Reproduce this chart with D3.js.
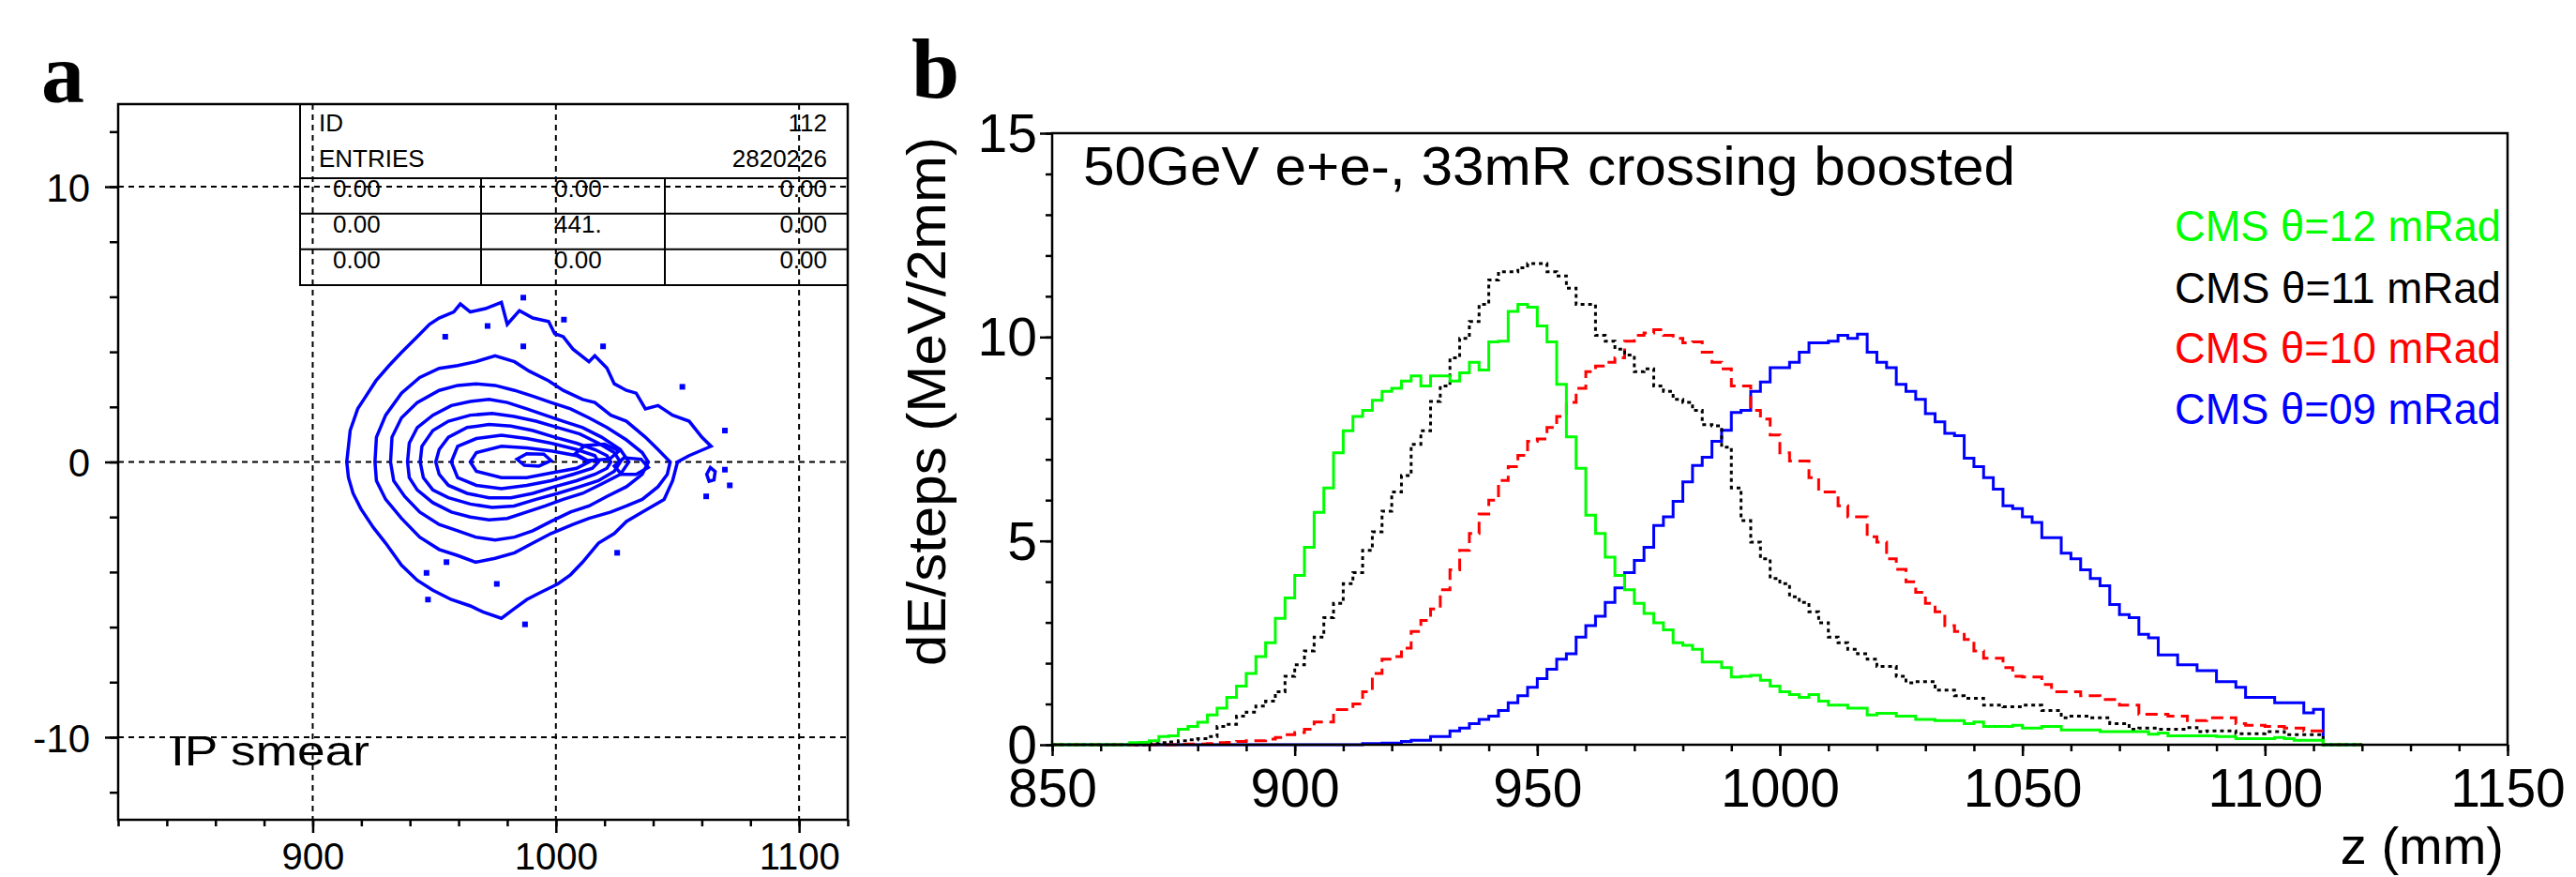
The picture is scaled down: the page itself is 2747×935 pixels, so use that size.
<!DOCTYPE html>
<html><head><meta charset="utf-8">
<script src="https://cdn.jsdelivr.net/npm/d3@7"></script>
<style>
body{margin:0;background:#fff}
svg{display:block}
text{font-family:"Liberation Sans",Arial,sans-serif;fill:#000}
</style>
</head><body>
<svg id="chart" width="2747" height="935"></svg>
<script>
// ---------------- DATA ----------------
// Panel b: histograms, 2 mm bins starting at z = 864 mm (last bin 1110-1112)
const binStart = 864;
const binWidth = 2;
const seriesNames = ["CMS \u03b8=12 mRad", "CMS \u03b8=11 mRad", "CMS \u03b8=10 mRad", "CMS \u03b8=09 mRad"];
const green12 = [
 0,0.05,0.06,0.1,0.2,0.22,0.38,0.45,0.55,0.73,
 0.9,1.16,1.44,1.75,2.16,2.5,3.1,3.6,4.15,4.84,
 5.7,6.3,7.16,7.7,8.05,8.2,8.45,8.67,8.74,8.92,
 9.05,8.8,9.05,9.05,8.92,9.12,9.38,9.19,9.88,9.9,
 10.63,10.8,10.73,10.27,9.88,8.84,7.55,6.78,5.63,5.18,
 4.6,4.15,3.8,3.47,3.22,2.99,2.82,2.5,2.44,2.34,
 2.03,2.03,1.89,1.66,1.68,1.7,1.58,1.44,1.3,1.23,
 1.16,1.23,1.07,0.97,0.97,0.9,0.9,0.73,0.77,0.77,
 0.7,0.7,0.62,0.62,0.59,0.59,0.59,0.52,0.56,0.45,
 0.45,0.45,0.48,0.41,0.41,0.45,0.45,0.36,0.36,0.36,
 0.36,0.32,0.32,0.32,0.32,0.32,0.26,0.29,0.22,0.22,
 0.22,0.22,0.22,0.2,0.2,0.15,0.15,0.15,0.15,0.18,
 0.15,0.11,0.11,0.11
];
const black11 = [
 0,0,0,0.03,0.05,0.07,0.1,0.12,0.15,0.2,
 0.45,0.5,0.7,0.8,0.95,1.07,1.3,1.68,1.96,2.3,
 2.64,3.12,3.47,3.95,4.22,4.77,5.22,5.73,6.2,6.6,
 7.37,7.7,8.42,8.8,9.49,9.97,10.38,10.8,11.4,11.6,
 11.6,11.7,11.8,11.8,11.6,11.5,11.2,10.8,10.8,10.04,
 9.9,9.7,9.56,9.15,9.22,8.8,8.67,8.47,8.4,8.2,
 7.85,7.82,7.3,6.3,5.5,4.97,4.56,4.08,3.95,3.63,
 3.49,3.26,2.99,2.64,2.5,2.34,2.23,2.1,1.92,1.92,
 1.68,1.52,1.55,1.55,1.34,1.34,1.2,1.14,1.14,0.97,
 0.97,0.93,0.93,0.97,0.97,0.84,0.84,0.66,0.7,0.7,
 0.66,0.66,0.52,0.52,0.38,0.41,0.41,0.38,0.38,0.38,
 0.42,0.32,0.34,0.34,0.34,0.27,0.27,0.27,0.32,0.32,
 0.25,0.25,0.25,0.25
];
const red10 = [
 0,0,0,0,0,0,0.01,0.02,0.02,0.03,
 0.05,0.06,0.08,0.1,0.1,0.14,0.18,0.25,0.3,0.38,
 0.56,0.56,0.86,0.86,1.0,1.3,1.75,2.1,2.16,2.37,
 2.78,3.05,3.33,3.8,4.29,4.77,5.18,5.66,6.0,6.48,
 6.82,7.1,7.44,7.5,7.78,8.05,8.4,8.74,9.15,9.29,
 9.38,9.49,9.9,10.04,10.1,10.18,10.04,9.97,9.86,9.88,
 9.63,9.38,9.22,8.8,8.8,8.2,7.99,7.6,7.16,6.96,
 6.96,6.55,6.2,6.2,5.86,5.59,5.59,5.1,4.97,4.56,
 4.3,4.0,3.74,3.47,3.26,2.92,2.78,2.58,2.3,2.12,
 2.12,1.89,1.68,1.66,1.66,1.48,1.3,1.3,1.3,1.2,
 1.2,1.11,1.11,0.97,0.97,0.75,0.75,0.75,0.7,0.7,
 0.59,0.59,0.66,0.66,0.66,0.52,0.48,0.48,0.45,0.45,
 0.41,0.41,0.34,0.34
];
const blue09 = [
 0,0,0,0,0,0,0,0,0,0,
 0,0,0,0,0,0,0,0,0,0,
 0,0,0,0,0,0.03,0.03,0.04,0.04,0.08,
 0.11,0.11,0.2,0.2,0.34,0.41,0.52,0.62,0.7,0.84,
 1.03,1.2,1.41,1.62,1.85,2.1,2.23,2.64,2.92,3.15,
 3.49,3.85,4.22,4.52,4.84,5.38,5.59,5.97,6.45,6.85,
 7.05,7.44,7.71,8.15,8.2,8.67,8.9,9.25,9.25,9.38,
 9.63,9.86,9.86,9.9,10.04,9.97,10.07,9.63,9.38,9.25,
 8.84,8.67,8.47,8.12,7.92,7.64,7.58,7.03,6.82,6.55,
 6.27,5.86,5.79,5.59,5.45,5.08,5.08,4.7,4.56,4.29,
 4.08,3.9,3.44,3.19,3.12,2.71,2.62,2.2,2.2,1.96,
 1.96,1.82,1.82,1.55,1.55,1.41,1.16,1.16,1.16,1.03,
 1.03,1.03,0.78,0.87
];
const xTicksB = [850, 900, 950, 1000, 1050, 1100, 1150];
const yTicksB = [0, 5, 10, 15];
const titleB = "50GeV e+e-, 33mR crossing boosted";
const yLabelB = "dE/steps (MeV/2mm)";
const xLabelB = "z (mm)";

// Panel a: contour lines of the IP smear distribution, [z (mm), x (mm)]
const contour1 = [[914,0],[915.4,1.14],[918.5,1.93],[921,2.27],[926,2.95],[931.4,3.5],[936.5,3.98],[943,4.55],[948,5.0],[952,5.23],[958,5.45],[960.7,5.74],[964.8,5.45],[971,5.57],[977.6,5.8],[980,5.0],[985,5.5],[990.5,5.23],[997,5.1],[999.5,4.66],[1003,4.55],[1007,4.1],[1013.6,3.64],[1016,3.86],[1021,3.41],[1024,2.84],[1029,2.6],[1033,2.5],[1036.8,1.93],[1042,2.05],[1048,1.7],[1054.8,1.48],[1060,0.9],[1063.8,0.57],[1054.8,0.23],[1050,0],[1048,-0.68],[1044.5,-1.36],[1035.5,-1.82],[1029,-2.16],[1024,-2.6],[1017.5,-2.95],[1011,-3.64],[1006,-4.1],[1000.8,-4.43],[993,-4.77],[988,-5.0],[982.8,-5.34],[977.6,-5.68],[970,-5.45],[964.8,-5.23],[957,-5.0],[949.4,-4.66],[943,-4.3],[936.5,-3.75],[930,-2.95],[925,-2.39],[919.8,-1.7],[916.6,-1.14],[914.7,-0.57]];
const contour2 = [[925.6,0],[926.2,0.9],[930,1.7],[936.5,2.5],[944,3.07],[952,3.4],[959.6,3.5],[967,3.64],[975,3.86],[983,3.64],[989,3.3],[997,2.95],[1003,2.6],[1011,2.27],[1016,2.16],[1022.6,1.7],[1029,1.48],[1036.8,0.9],[1042,0.45],[1047,0],[1045.8,-0.45],[1042,-0.9],[1035.5,-1.36],[1029,-1.6],[1022.6,-1.82],[1013.6,-2.05],[1007,-2.27],[998,-2.6],[990.5,-2.95],[983,-3.3],[975,-3.5],[967,-3.64],[959.6,-3.4],[952,-3.18],[944,-2.73],[936.5,-2.05],[930,-1.36],[926.2,-0.68]];
const contour3 = [[932,0],[932.6,0.9],[936.5,1.6],[943,2.16],[952,2.6],[959.6,2.78],[967,2.84],[975,2.78],[983,2.6],[990.5,2.39],[998,2.16],[1006,1.93],[1013.6,1.6],[1021,1.25],[1029,0.8],[1035.5,0.34],[1038,0],[1035.5,-0.45],[1029,-0.9],[1021,-1.25],[1013.6,-1.6],[1006,-1.82],[998,-2.16],[990.5,-2.5],[983,-2.73],[975,-2.84],[967,-2.73],[959.6,-2.5],[952,-2.27],[944,-1.82],[937.8,-1.25],[933.3,-0.68]];
const contour4 = [[939,0],[939.7,0.68],[943,1.25],[949.4,1.7],[957,2.05],[964.8,2.2],[972.5,2.27],[980,2.16],[988,1.93],[995.6,1.7],[1003,1.48],[1011,1.25],[1018.8,0.9],[1026.5,0.45],[1030,0],[1026.5,-0.45],[1018.8,-0.8],[1011,-1.14],[1003,-1.36],[995.6,-1.6],[988,-1.82],[980,-2.05],[972.5,-2.1],[964.8,-2.0],[957,-1.82],[949.4,-1.48],[943,-1.02],[939.7,-0.57]];
const contour5 = [[944.2,0],[944.9,0.57],[949.4,1.14],[955.8,1.48],[964.8,1.7],[973.8,1.76],[982.8,1.65],[991.8,1.48],[1000.8,1.25],[1009.8,1.02],[1017.5,0.68],[1024,0.34],[1026.5,0],[1024,-0.34],[1017.5,-0.68],[1009.8,-0.9],[1000.8,-1.14],[991.8,-1.36],[982.8,-1.6],[973.8,-1.65],[964.8,-1.53],[955.8,-1.3],[949.4,-1.02],[945.5,-0.57]];
const contour6 = [[950.6,0],[952,0.45],[955.8,0.9],[963.5,1.25],[972.5,1.36],[981.5,1.3],[990.5,1.14],[999.5,0.9],[1008.5,0.68],[1016,0.45],[1021,0.23],[1022.6,0],[1021,-0.23],[1016,-0.45],[1008.5,-0.68],[999.5,-0.9],[990.5,-1.14],[981.5,-1.3],[972.5,-1.3],[963.5,-1.14],[955.8,-0.85],[952,-0.45]];
const contour7 = [[957,0],[959.6,0.57],[967.3,0.85],[977.6,0.97],[988,0.85],[998,0.68],[1008.5,0.45],[1016,0.23],[1017.5,0],[1015,-0.23],[1007,-0.45],[998,-0.68],[988,-0.85],[977.6,-0.97],[967.3,-0.85],[959.6,-0.57]];
const contour8 = [[964.8,0],[967.3,0.34],[977.6,0.57],[988,0.51],[998,0.4],[1008.5,0.23],[1013.6,0],[1008.5,-0.23],[998,-0.4],[988,-0.57],[977.6,-0.57],[967.3,-0.34]];
const island1 = [[1008,0.3],[1012,0.6],[1020,0.65],[1026,0.4],[1022,0.1],[1013,0.05]];
const island2 = [[1024,-0.15],[1028,0.15],[1035,0.1],[1038,-0.2],[1033,-0.45],[1027,-0.45]];
const island3 = [[984,0.1],[988,0.3],[995,0.28],[998,0.05],[993,-0.15],[987,-0.12]];
const island4 = [[1062,-0.45],[1063.5,-0.2],[1065.5,-0.35],[1065,-0.65],[1063,-0.7]];
const contours = [contour1, contour2, contour3, contour4, contour5, contour6, contour7, contour8, island1, island2, island3, island4];
const strayPoints = [[986.6,5.97],[1003.3,5.17],[1019.4,4.2],[1052,2.73],[1069.5,1.14],[1069.5,-0.28],[1071.5,-0.85],[1061.8,-1.25],[986.6,4.2],[971.9,4.94],[954.5,4.55],[947.4,-5.0],[946.8,-4.03],[975.7,-4.43],[987.3,-5.9],[955,-3.64],[1025.2,-3.3]];
const xTicksA = [900, 1000, 1100];
const yTicksA = [-10, 0, 10];
const statsHeader = [["ID", "112"], ["ENTRIES", "2820226"]];
const statsRows = [["0.00", "0.00", "0.00"], ["0.00", "441.", "0.00"], ["0.00", "0.00", "0.00"]];
const labelA = "IP smear";

// ---------------- DRAW ----------------
const svg = d3.select("#chart");
const colors = ["#00ff00", "#000000", "#ff0000", "#0000ff"];
const dashes = [null, "4,4", "13,7", null];
const plain = d => String(d);

// ===== Panel a =====
const xA = d3.scaleLinear().domain([820, 1120]).range([126, 904]);
const yA = d3.scaleLinear().domain([-13, 13]).range([874, 111]);

svg.append("clipPath").attr("id", "clipA").append("rect")
  .attr("x", xA(820)).attr("y", yA(13)).attr("width", xA(1120) - xA(820)).attr("height", yA(-13) - yA(13));

// grid
const gA = svg.append("g");
gA.selectAll(".vg").data(xTicksA).join("line")
  .attr("x1", d => xA(d)).attr("x2", d => xA(d)).attr("y1", yA(13)).attr("y2", yA(-13))
  .attr("stroke", "#000").attr("stroke-width", 2).attr("stroke-dasharray", "6,5");
gA.selectAll(".hg").data(yTicksA).join("line")
  .attr("y1", d => yA(d)).attr("y2", d => yA(d)).attr("x1", xA(820)).attr("x2", xA(1120))
  .attr("stroke", "#000").attr("stroke-width", 2).attr("stroke-dasharray", "6,5");

// contours
const cline = d3.line().x(d => xA(d[0])).y(d => yA(d[1])).curve(d3.curveLinearClosed);
const cg = svg.append("g").attr("clip-path", "url(#clipA)");
cg.selectAll("path").data(contours).join("path")
  .attr("d", cline).attr("fill", "none").attr("stroke", "#0000ff").attr("stroke-width", 3.5).attr("stroke-linejoin", "miter");
cg.selectAll("rect").data(strayPoints).join("rect")
  .attr("x", d => xA(d[0]) - 3).attr("y", d => yA(d[1]) - 3).attr("width", 6).attr("height", 6).attr("fill", "#0000ff");

// stats box
const boxL = 320, boxR = xA(1120), boxT = yA(13);
const rowY = [190, 227.7, 265.7, 304];
const colX = [513, 709];
const sb = svg.append("g");
sb.append("rect").attr("x", boxL).attr("y", boxT).attr("width", boxR - boxL).attr("height", rowY[3] - boxT)
  .attr("fill", "none").attr("stroke", "#000").attr("stroke-width", 2);
rowY.slice(0, 3).forEach(y => sb.append("line").attr("x1", boxL).attr("x2", boxR).attr("y1", y).attr("y2", y).attr("stroke", "#000").attr("stroke-width", 2));
colX.forEach(x => sb.append("line").attr("x1", x).attr("x2", x).attr("y1", rowY[0]).attr("y2", rowY[3]).attr("stroke", "#000").attr("stroke-width", 2));
const hdrBase = [140, 177.5];
statsHeader.forEach((r, i) => {
  sb.append("text").attr("x", 340).attr("y", hdrBase[i]).attr("font-size", 26).text(r[0]);
  sb.append("text").attr("x", 882).attr("y", hdrBase[i]).attr("font-size", 26).attr("text-anchor", "end").text(r[1]);
});
const rowBase = [209.5, 247.5, 285.5];
statsRows.forEach((r, i) => {
  sb.append("text").attr("x", 355).attr("y", rowBase[i]).attr("font-size", 26).text(r[0]);
  sb.append("text").attr("x", 591).attr("y", rowBase[i]).attr("font-size", 26).text(r[1]);
  sb.append("text").attr("x", 882).attr("y", rowBase[i]).attr("font-size", 26).attr("text-anchor", "end").text(r[2]);
});

// frame
svg.append("rect").attr("x", xA(820)).attr("y", yA(13)).attr("width", xA(1120) - xA(820)).attr("height", yA(-13) - yA(13))
  .attr("fill", "none").attr("stroke", "#000").attr("stroke-width", 2.5);

// axes a
function styleAxis(g) {
  g.select(".domain").remove();
  g.selectAll("line").attr("stroke", "#000").attr("stroke-width", 2.5);
}
svg.append("g").attr("transform", `translate(0,${yA(-13)})`)
  .call(d3.axisBottom(xA).tickValues(d3.range(820, 1121, 20)).tickSize(7).tickFormat(""))
  .call(styleAxis);
svg.append("g").attr("transform", `translate(0,${yA(-13)})`)
  .call(d3.axisBottom(xA).tickValues(xTicksA).tickSize(14).tickFormat(plain))
  .call(styleAxis)
  .call(g => g.selectAll("text").attr("y", 53).attr("dy", null).attr("font-size", 40)
    .attr("font-family", "Liberation Sans, Arial, sans-serif").attr("fill", "#000"));
svg.append("g").attr("transform", `translate(${xA(820)},0)`)
  .call(d3.axisLeft(yA).tickValues(d3.range(-12, 13, 2)).tickSize(9).tickFormat(""))
  .call(styleAxis);
svg.append("g").attr("transform", `translate(${xA(820)},0)`)
  .call(d3.axisLeft(yA).tickValues(yTicksA).tickSize(14).tickPadding(16).tickFormat(plain))
  .call(styleAxis)
  .call(g => g.selectAll("text").attr("dy", "0.36em").attr("font-size", 42)
    .attr("font-family", "Liberation Sans, Arial, sans-serif").attr("fill", "#000"));

svg.append("text").attr("x", 182).attr("y", 816).attr("font-size", 45)
  .attr("textLength", 212).attr("lengthAdjust", "spacingAndGlyphs").text(labelA);
svg.append("text").attr("x", 44).attr("y", 109).attr("font-size", 92).attr("font-weight", "bold")
  .style("font-family", "'Liberation Serif','Times New Roman',serif").text("a");

// ===== Panel b =====
const xB = d3.scaleLinear().domain([850, 1150]).range([1122, 2674]);
const yB = d3.scaleLinear().domain([0, 15]).range([794, 142]);

svg.append("clipPath").attr("id", "clipB").append("rect")
  .attr("x", xB(850)).attr("y", yB(15)).attr("width", xB(1150) - xB(850)).attr("height", yB(0) - yB(15) + 2);

function stepPoints(vals) {
  const pts = [[850, 0]];
  vals.forEach((v, i) => pts.push([binStart + i * binWidth, v]));
  pts.push([binStart + vals.length * binWidth, 0]);
  pts.push([1120, 0]);
  return pts;
}
const sline = d3.line().x(d => xB(d[0])).y(d => yB(d[1])).curve(d3.curveStepAfter);
const series = [green12, black11, red10, blue09];
const drawOrder = [3, 2, 1, 0];
const hb = svg.append("g").attr("clip-path", "url(#clipB)");
drawOrder.forEach(i => {
  hb.append("path").attr("d", sline(stepPoints(series[i])))
    .attr("fill", "none").attr("stroke", colors[i]).attr("stroke-width", 3)
    .attr("stroke-dasharray", dashes[i]);
});

// frame b
svg.append("rect").attr("x", xB(850)).attr("y", yB(15)).attr("width", xB(1150) - xB(850)).attr("height", yB(0) - yB(15))
  .attr("fill", "none").attr("stroke", "#000").attr("stroke-width", 2.5);

// axes b
svg.append("g").attr("transform", `translate(0,${yB(0)})`)
  .call(d3.axisBottom(xB).tickValues(d3.range(850, 1151, 10)).tickSize(7).tickFormat(""))
  .call(styleAxis);
svg.append("g").attr("transform", `translate(0,${yB(0)})`)
  .call(d3.axisBottom(xB).tickValues(xTicksB).tickSize(12).tickFormat(plain))
  .call(styleAxis)
  .call(g => g.selectAll("text").attr("y", 66).attr("dy", null).attr("font-size", 57)
    .attr("font-family", "Liberation Sans, Arial, sans-serif").attr("fill", "#000"));
svg.append("g").attr("transform", `translate(${xB(850)},0)`)
  .call(d3.axisLeft(yB).tickValues(d3.range(0, 16, 1)).tickSize(7).tickFormat(""))
  .call(styleAxis);
svg.append("g").attr("transform", `translate(${xB(850)},0)`)
  .call(d3.axisLeft(yB).tickValues(yTicksB).tickSize(13).tickPadding(3).tickFormat(plain))
  .call(styleAxis)
  .call(g => g.selectAll("text").attr("dy", "0.34em").attr("font-size", 57)
    .attr("font-family", "Liberation Sans, Arial, sans-serif").attr("fill", "#000"));

// title, legend, labels
svg.append("text").attr("x", 1155).attr("y", 197).attr("font-size", 57)
  .attr("textLength", 994).attr("lengthAdjust", "spacingAndGlyphs").text(titleB);
const legY = [257, 323, 387, 452];
seriesNames.forEach((n, i) => {
  svg.append("text").attr("x", 2319).attr("y", legY[i]).attr("font-size", 47)
    .attr("textLength", 348).attr("lengthAdjust", "spacingAndGlyphs")
    .style("fill", colors[i]).text(n);
});
svg.append("text").attr("x", 2670).attr("y", 921).attr("font-size", 56).attr("text-anchor", "end").text(xLabelB);
svg.append("text").attr("transform", "translate(1008,428) rotate(-90)").attr("text-anchor", "middle")
  .attr("font-size", 58).attr("textLength", 564).attr("lengthAdjust", "spacingAndGlyphs").text(yLabelB);
svg.append("text").attr("x", 972).attr("y", 104).attr("font-size", 92).attr("font-weight", "bold")
  .style("font-family", "'Liberation Serif','Times New Roman',serif").text("b");
</script>
</body></html>
